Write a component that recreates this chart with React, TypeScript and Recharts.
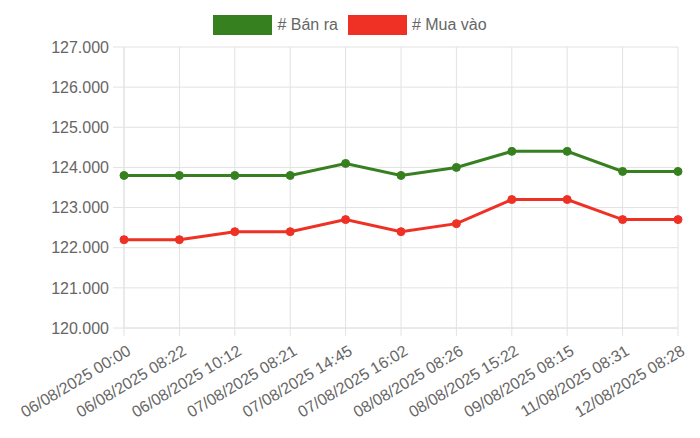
import React from 'react';
import { LineChart, Line, XAxis, YAxis, CartesianGrid } from 'recharts';

const times = [
  '06/08/2025 00:00',
  '06/08/2025 08:22',
  '06/08/2025 10:12',
  '07/08/2025 08:21',
  '07/08/2025 14:45',
  '07/08/2025 16:02',
  '08/08/2025 08:26',
  '08/08/2025 15:22',
  '09/08/2025 08:15',
  '11/08/2025 08:31',
  '12/08/2025 08:28',
];

const banRa = [123800, 123800, 123800, 123800, 124100, 123800, 124000, 124400, 124400, 123900, 123900];
const muaVao = [122200, 122200, 122400, 122400, 122700, 122400, 122600, 123200, 123200, 122700, 122700];

const yTicks = [120000, 121000, 122000, 123000, 124000, 125000, 126000, 127000];

const series = [
  { key: 'banRa', name: '# Bán ra', color: '#37801f' },
  { key: 'muaVao', name: '# Mua vào', color: '#ee3124' },
];

const data = times.map((time, i) => ({ time, banRa: banRa[i], muaVao: muaVao[i] }));

const FONT = '"Liberation Sans", Arial, Helvetica, sans-serif';
const GRID = '#e2e2e2';

const formatThousands = (v: number) => v.toLocaleString('de-DE');

const XTick = ({ x, y, payload }: any) => (
  <g transform={`translate(${x + 5},${y + 11})`}>
    <text
      textAnchor="end"
      transform="rotate(-31)"
      dy="0.35em"
      fill="#666"
      fontSize={16}
      fontFamily={FONT}
    >
      {payload.value}
    </text>
  </g>
);

const TopLegend = () => (
  <div
    style={{
      position: 'absolute',
      top: 15,
      left: 0,
      width: 700,
      display: 'flex',
      justifyContent: 'center',
      fontFamily: FONT,
      fontSize: 16,
      color: '#666',
      lineHeight: '20px',
    }}
  >
    {series.map((s) => (
      <div key={s.key} style={{ display: 'flex', alignItems: 'center', margin: '0 5px' }}>
        <span
          style={{
            display: 'inline-block',
            width: 57,
            height: 18,
            background: s.color,
            border: `1px solid ${s.color}99`,
            marginRight: 5,
          }}
        />
        <span>{s.name}</span>
      </div>
    ))}
  </div>
);

const App = () => {
  return (
    <div style={{ position: 'absolute', left: 0, top: 0, width: 700, height: 438, background: '#fff' }}>
      <TopLegend />
      <LineChart width={700} height={438} data={data} margin={{ top: 47, right: 22, left: 0, bottom: 0 }}>
        <CartesianGrid stroke={GRID} vertical horizontal />
        <XAxis
          dataKey="time"
          interval={0}
          tick={<XTick />}
          tickSize={8}
          axisLine={{ stroke: GRID }}
          tickLine={{ stroke: GRID }}
          height={110}
        />
        <YAxis
          domain={[120000, 127000]}
          ticks={yTicks}
          tickFormatter={formatThousands}
          width={124}
          tickSize={11}
          tickMargin={4}
          axisLine={{ stroke: GRID }}
          tickLine={{ stroke: GRID }}
          tick={{ fill: '#666', fontSize: 16, fontFamily: FONT }}
        />
        {series.map((s) => (
          <Line
            key={s.key}
            dataKey={s.key}
            name={s.name}
            stroke={s.color}
            strokeWidth={3}
            dot={{ r: 4, fill: s.color, stroke: s.color, strokeWidth: 1 }}
            type="linear"
            isAnimationActive={false}
          />
        ))}
      </LineChart>
    </div>
  );
};

export default App;
